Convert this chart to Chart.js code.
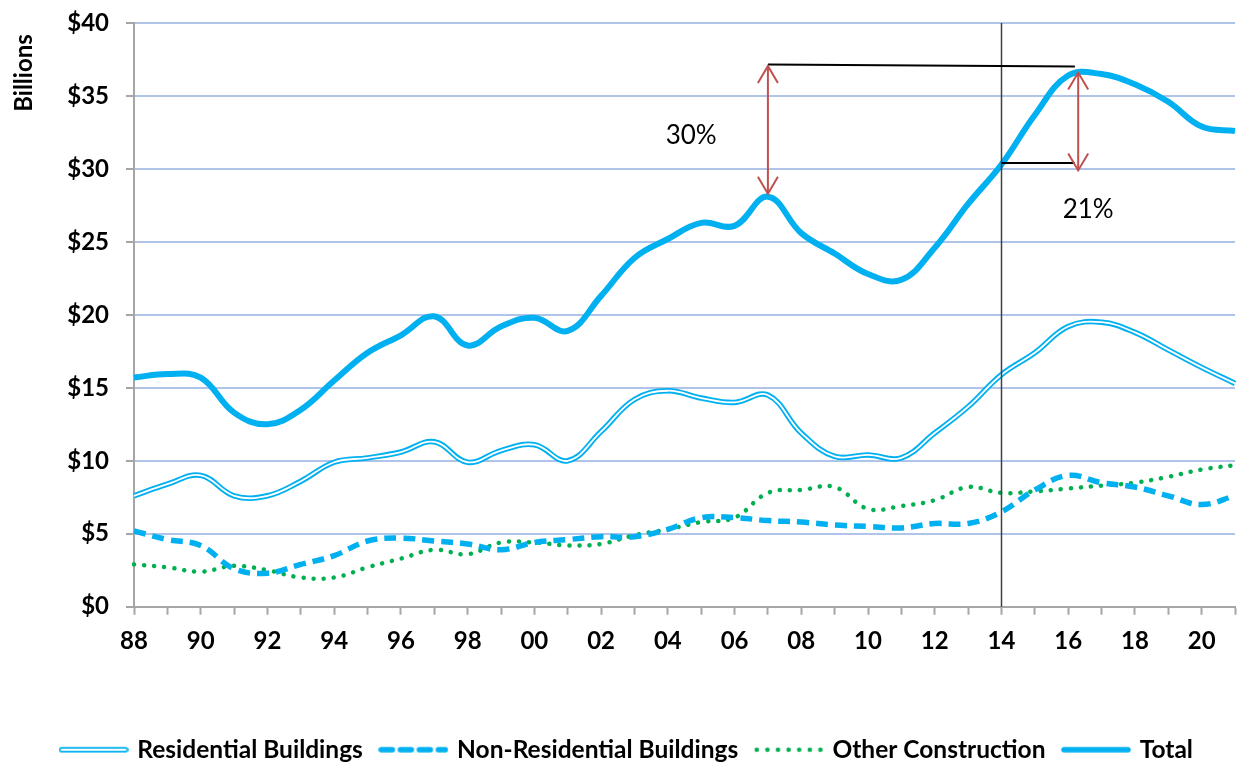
<!DOCTYPE html>
<html lang="en">
<head>
    <meta charset="UTF-8">
    <title>Construction spending, billions</title>
    <script src="https://cdn.jsdelivr.net/npm/chart.js"></script>
    <style>
        html, body {
            margin: 0;
            padding: 0;
            background: #fff;
            overflow: hidden;
        }
        .chart-container {
            position: relative;
            width: 1237px;
            height: 772px;
        }
    </style>
</head>
<body>
    <div class="chart-container">
        <canvas id="spendChart"></canvas>
    </div>

    <script>
        // Years shown as two-digit labels, 1988 to 2021
        const years = ['88', '89', '90', '91', '92', '93', '94', '95', '96', '97', '98', '99',
                       '00', '01', '02', '03', '04', '05', '06', '07', '08', '09', '10', '11',
                       '12', '13', '14', '15', '16', '17', '18', '19', '20', '21'];

        // Values in billions of dollars
        const residential = [7.6, 8.4, 9.0, 7.6, 7.6, 8.6, 9.9, 10.2, 10.6, 11.3, 9.9, 10.7,
                             11.1, 10.0, 12.0, 14.2, 14.8, 14.3, 14.0, 14.5, 11.9, 10.3,
                             10.4, 10.2, 11.9, 13.7, 15.9, 17.4, 19.2, 19.5, 18.8, 17.6, 16.4, 15.3];
        const nonResidential = [5.2, 4.6, 4.2, 2.6, 2.3, 2.9, 3.5, 4.5, 4.7, 4.5, 4.3, 3.9,
                                4.4, 4.6, 4.8, 4.8, 5.3, 6.1, 6.1, 5.9, 5.8, 5.6,
                                5.5, 5.4, 5.7, 5.7, 6.5, 8.0, 9.0, 8.5, 8.2, 7.6, 7.0, 7.6];
        const otherConstruction = [2.9, 2.7, 2.4, 2.8, 2.5, 2.0, 2.0, 2.7, 3.3, 3.9, 3.6, 4.4,
                                   4.4, 4.2, 4.3, 4.9, 5.3, 5.8, 6.1, 7.8, 8.0, 8.2,
                                   6.7, 6.9, 7.3, 8.2, 7.8, 7.9, 8.1, 8.3, 8.5, 8.9, 9.4, 9.7];
        const total = [15.7, 15.95, 15.7, 13.3, 12.5, 13.5, 15.5, 17.4, 18.6, 19.9, 17.9, 19.2,
                       19.8, 18.9, 21.3, 23.9, 25.2, 26.3, 26.1, 28.1, 25.6, 24.2,
                       22.8, 22.4, 24.6, 27.6, 30.3, 33.7, 36.4, 36.5, 35.8, 34.6, 32.9, 32.6];

        const yTicks = [0, 5, 10, 15, 20, 25, 30, 35, 40];

        // Annotation marks, in chart units (category index, billions)
        const markerYearIndex = 26;          // 2014
        const peakLine = { x1: 19, y1: 37.15, x2: 28.2, y2: 37.02 };
        const baseLine = { x1: 26, y1: 30.4, x2: 28.2, y2: 30.4 };
        const arrow30 = { x: 19, y1: 37.05, y2: 28.3, label: '30%', lx: 16.7, ly: 32.3 };
        const arrow21 = { x: 28.3, y1: 36.6, y2: 29.9, label: '21%', lx: 28.6, ly: 27.2 };

        const blue = '#00b0f0';
        const green = '#00b050';
        const axisGray = '#a6a6a6';
        const fontFamily = 'Lato, "Open Sans", sans-serif';

        // Small canvases used as legend samples
        function legendSample(kind) {
            const c = document.createElement('canvas');
            c.width = 70;
            c.height = 12;
            const g = c.getContext('2d');
            g.lineCap = 'round';
            g.beginPath();
            g.moveTo(3, 6);
            g.lineTo(67, 6);
            if (kind === 'double') {
                g.strokeStyle = blue;
                g.lineWidth = 5.5;
                g.stroke();
                g.strokeStyle = '#fff';
                g.lineWidth = 1.8;
                g.stroke();
            } else if (kind === 'dash') {
                g.setLineDash([11, 8]);
                g.strokeStyle = blue;
                g.lineWidth = 5.5;
                g.stroke();
            } else if (kind === 'dot') {
                g.setLineDash([0.1, 10.5]);
                g.strokeStyle = green;
                g.lineWidth = 4.5;
                g.stroke();
            } else {
                g.strokeStyle = blue;
                g.lineWidth = 5.5;
                g.stroke();
            }
            return c;
        }

        function drawArrowHead(ctx, x, y, dir) {
            ctx.beginPath();
            ctx.moveTo(x - 10, y + dir * 17);
            ctx.lineTo(x, y);
            ctx.lineTo(x + 10, y + dir * 17);
            ctx.stroke();
        }

        const annotations = {
            id: 'annotations',
            afterDatasetsDraw(chart) {
                const ctx = chart.ctx;
                const xs = chart.scales.x;
                const ys = chart.scales.y;
                const area = chart.chartArea;
                ctx.save();

                // vertical marker at 2014
                ctx.strokeStyle = '#404040';
                ctx.lineWidth = 1.5;
                ctx.beginPath();
                const mx = Math.round(xs.getPixelForValue(markerYearIndex)) + 0.5;
                ctx.moveTo(mx, area.top);
                ctx.lineTo(mx, area.bottom);
                ctx.stroke();

                // reference lines
                ctx.strokeStyle = '#000';
                ctx.lineWidth = 2;
                [peakLine, baseLine].forEach(l => {
                    ctx.beginPath();
                    ctx.moveTo(xs.getPixelForValue(l.x1), ys.getPixelForValue(l.y1));
                    ctx.lineTo(xs.getPixelForValue(l.x2), ys.getPixelForValue(l.y2));
                    ctx.stroke();
                });

                // double arrows and labels
                ctx.strokeStyle = '#c0504d';
                ctx.lineWidth = 2;
                [arrow30, arrow21].forEach(a => {
                    const x = xs.getPixelForValue(a.x);
                    const top = ys.getPixelForValue(a.y1);
                    const bot = ys.getPixelForValue(a.y2);
                    ctx.beginPath();
                    ctx.moveTo(x, top);
                    ctx.lineTo(x, bot);
                    ctx.stroke();
                    drawArrowHead(ctx, x, top, 1);
                    drawArrowHead(ctx, x, bot, -1);
                });

                ctx.fillStyle = '#000';
                ctx.font = '26px ' + fontFamily;
                ctx.textAlign = 'center';
                ctx.textBaseline = 'middle';
                [arrow30, arrow21].forEach(a => {
                    ctx.fillText(a.label, xs.getPixelForValue(a.lx), ys.getPixelForValue(a.ly));
                });

                // axis title, placed near the top like the original
                ctx.translate(24, 73);
                ctx.rotate(-Math.PI / 2);
                ctx.font = 'bold 24px ' + fontFamily;
                ctx.fillText('Billions', 0, 0);
                ctx.restore();
            }
        };

        const lineBase = {
            pointRadius: 0,
            pointHoverRadius: 0,
            tension: 0.4,
            fill: false
        };

        const tickFont = { family: fontFamily, size: 24, weight: 'bold' };

        const ctx = document.getElementById('spendChart').getContext('2d');
        const chart = new Chart(ctx, {
            type: 'line',
            data: {
                labels: years,
                datasets: [
                    Object.assign({}, lineBase, {
                        label: 'Residential Buildings',
                        data: residential,
                        borderColor: blue,
                        borderWidth: 5.5,
                        pointStyle: legendSample('double')
                    }),
                    Object.assign({}, lineBase, {
                        label: 'Non-Residential Buildings',
                        data: nonResidential,
                        borderColor: blue,
                        borderWidth: 5.5,
                        borderDash: [12, 7],
                        pointStyle: legendSample('dash')
                    }),
                    Object.assign({}, lineBase, {
                        label: 'Other Construction',
                        data: otherConstruction,
                        borderColor: green,
                        borderWidth: 4.5,
                        borderDash: [0.1, 10],
                        borderCapStyle: 'round',
                        pointStyle: legendSample('dot')
                    }),
                    Object.assign({}, lineBase, {
                        label: 'Total',
                        data: total,
                        borderColor: blue,
                        borderWidth: 6,
                        pointStyle: legendSample('solid')
                    }),
                    // white core of the double residential line
                    Object.assign({}, lineBase, {
                        label: 'inner',
                        data: residential,
                        borderColor: '#fff',
                        borderWidth: 1.8,
                        order: -1
                    })
                ]
            },
            options: {
                responsive: true,
                maintainAspectRatio: false,
                animation: false,
                events: [],
                layout: {
                    padding: { top: 23, right: 2, left: 20, bottom: 0 }
                },
                plugins: {
                    legend: {
                        position: 'bottom',
                        labels: {
                            usePointStyle: true,
                            pointStyleWidth: 63,
                            boxHeight: 12,
                            padding: 19,
                            color: '#000',
                            font: { family: fontFamily, size: 24.5, weight: 'bold' },
                            filter: item => item.text !== 'inner'
                        }
                    },
                    tooltip: { enabled: false }
                },
                scales: {
                    x: {
                        grid: {
                            drawOnChartArea: false,
                            drawTicks: true,
                            tickLength: 8,
                            tickColor: axisGray,
                            tickWidth: 2
                        },
                        border: { color: axisGray, width: 2 },
                        ticks: {
                            autoSkip: false,
                            maxRotation: 0,
                            padding: 12,
                            color: '#000',
                            font: tickFont,
                            callback: (v, i) => (i % 2 === 0 ? years[i] : '')
                        },
                        afterFit: scale => {
                            scale.height = 111.8;
                            scale.paddingLeft = 0;
                            scale.paddingRight = 0;
                        }
                    },
                    y: {
                        min: yTicks[0],
                        max: yTicks[yTicks.length - 1],
                        afterBuildTicks: scale => {
                            scale.ticks = yTicks.map(v => ({ value: v }));
                        },
                        grid: {
                            color: '#b0c4ea',
                            lineWidth: 2,
                            tickLength: 8,
                            tickColor: axisGray,
                            tickWidth: 2
                        },
                        border: { color: axisGray, width: 2 },
                        ticks: {
                            padding: 17,
                            color: '#000',
                            font: tickFont,
                            callback: v => '$' + v
                        },
                        afterFit: scale => {
                            scale.width = 114;
                            scale.paddingTop = 0;
                            scale.paddingBottom = 0;
                        }
                    }
                }
            },
            plugins: [annotations]
        });
    </script>
</body>
</html>
